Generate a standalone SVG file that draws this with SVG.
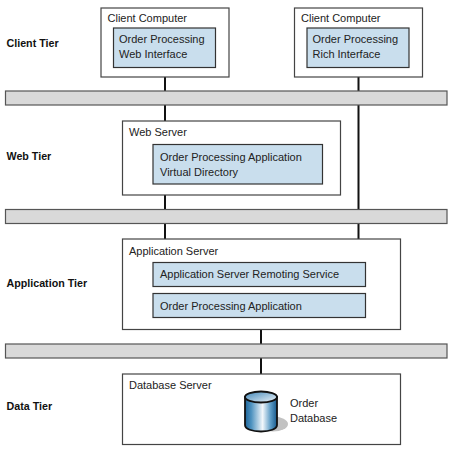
<svg xmlns="http://www.w3.org/2000/svg" width="450" height="451" viewBox="0 0 450 451">
<defs>
<linearGradient id="cyl" x1="0" x2="1" y1="0" y2="0">
<stop offset="0" stop-color="#1c6499"/><stop offset="0.2" stop-color="#4f93c0"/><stop offset="0.55" stop-color="#f2f7fb"/><stop offset="0.8" stop-color="#5d9cc6"/><stop offset="1" stop-color="#17598c"/>
</linearGradient>
<linearGradient id="top" x1="0" x2="1" y1="0" y2="1">
<stop offset="0" stop-color="#3f86b8"/><stop offset="1" stop-color="#f2f7fb"/>
</linearGradient>
</defs>
<style>
text{font-family:"Liberation Sans",Arial,sans-serif;font-size:11px;fill:#222}
.tier{font-weight:bold;font-size:10.700px;fill:#111}
.box{fill:#fff;stroke:#444;stroke-width:1.200}
.in{fill:#c9deed;stroke:#333;stroke-width:1.200}
.bus{fill:#d9d9d9;stroke:#555;stroke-width:1.200}
.c{stroke:#111;stroke-width:2;fill:none}
</style>
<rect width="450" height="451" fill="#fff"/>
<g id="connectors">
<path class="c" d="M165 77V91M165 105V121M165 195V209M165 223V239M358.500 77V91M358.500 105V209M358.500 223V239M261 330V344M261 358V374"/>
</g>
<g id="bus1"><rect class="bus" x="5.500" y="91" width="441.500" height="14"/></g>
<g id="bus2"><rect class="bus" x="5.500" y="209.500" width="441.500" height="14"/></g>
<g id="bus3"><rect class="bus" x="5.500" y="344" width="441.500" height="14"/></g>
<g id="tier-client"><text class="tier" x="6.500" y="46.700">Client Tier</text></g>
<g id="tier-web"><text class="tier" x="6.500" y="159.500">Web Tier</text></g>
<g id="tier-app"><text class="tier" x="6.500" y="287">Application Tier</text></g>
<g id="tier-data"><text class="tier" x="6.500" y="409.500">Data Tier</text></g>
<g id="client1">
<rect class="box" x="101" y="8" width="128" height="69"/>
<text x="107.500" y="22">Client Computer</text>
<rect class="in" x="113.500" y="28" width="102" height="39.500"/>
<text x="119" y="43">Order Processing</text>
<text x="119" y="58">Web Interface</text>
</g>
<g id="client2">
<rect class="box" x="294.500" y="8" width="128" height="69"/>
<text x="301" y="22">Client Computer</text>
<rect class="in" x="307" y="28" width="102" height="39.500"/>
<text x="312.500" y="43">Order Processing</text>
<text x="312.500" y="58">Rich Interface</text>
</g>
<g id="web-server">
<rect class="box" x="122.500" y="121" width="218" height="74"/>
<text x="129" y="136">Web Server</text>
<rect class="in" x="153" y="144.500" width="169.500" height="39.500"/>
<text x="160" y="161">Order Processing Application</text>
<text x="160" y="176">Virtual Directory</text>
</g>
<g id="app-server">
<rect class="box" x="122.500" y="239" width="278" height="90.500"/>
<text x="129" y="255">Application Server</text>
<rect class="in" x="153" y="262.500" width="212.500" height="24"/>
<text x="160" y="278">Application Server Remoting Service</text>
<rect class="in" x="153" y="293.500" width="212.500" height="24"/>
<text x="160" y="310">Order Processing Application</text>
</g>
<g id="db-server">
<rect class="box" x="122.500" y="374" width="278" height="70.500"/>
<text x="129" y="389">Database Server</text>
<ellipse cx="273" cy="424" rx="15" ry="7.500" fill="#c2c2c2"/>
<path d="M245 397V425C245 429 252 431.500 261 431.500S277 429 277 425V397Z" fill="url(#cyl)" stroke="#111" stroke-width="1.800"/>
<ellipse cx="261" cy="397" rx="16" ry="5.500" fill="url(#top)" stroke="#111" stroke-width="1.800"/>
<text x="290" y="407">Order</text>
<text x="290" y="422">Database</text>
</g>
</svg>
